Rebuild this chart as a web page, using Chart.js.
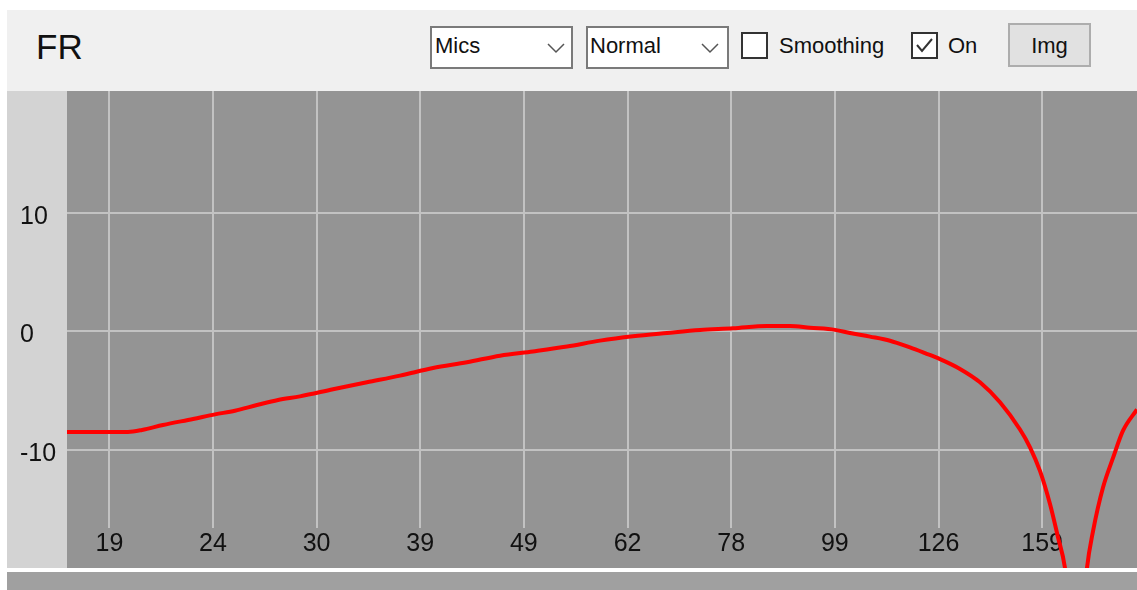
<!DOCTYPE html>
<html>
<head>
<meta charset="utf-8">
<title>FR</title>
<script src="https://cdn.jsdelivr.net/npm/chart.js@4/dist/chart.umd.min.js"></script>
<style>
  html, body { margin: 0; padding: 0; background: #ffffff; width: 1137px; height: 590px; overflow: hidden;
               font-family: "Liberation Sans", Arial, sans-serif; color: #111; }
  .abs { position: absolute; line-height: 1; white-space: nowrap; }
  #header { left: 7px; top: 10px; width: 1130px; height: 81px; background: #f0f0f0; }
  .combo { background: #fff; border: 2px solid #7a7a7a; box-sizing: border-box; }
  .check { background: #fff; border: 2px solid #333; box-sizing: border-box; }
  #imgBtn { left: 1008px; top: 23px; width: 83px; height: 44px; background: #e1e1e1;
            border: 2px solid #adadad; box-sizing: border-box; }
  #plotWrap { left: 7px; top: 91px; width: 1130px; height: 477px; background: #d3d3d3; }
  #footer { left: 7px; top: 572px; width: 1130px; height: 18px; background: #a0a0a0; }
</style>
</head>
<body>
<div id="header" class="abs"></div>
<div class="abs" style="left:36px; top:29px; font-size:35px;">FR</div>

<div class="abs combo" style="left:430px; top:26px; width:143px; height:43px;"></div>
<div class="abs" style="left:435px; top:35px; font-size:22px;">Mics</div>
<svg class="abs" style="left:547px; top:42px;" width="18" height="12"><polyline points="1,2 9,10 17,2" fill="none" stroke="#555" stroke-width="1.5"/></svg>

<div class="abs combo" style="left:586px; top:26px; width:143px; height:43px;"></div>
<div class="abs" style="left:590px; top:35px; font-size:22px;">Normal</div>
<svg class="abs" style="left:701px; top:42px;" width="18" height="12"><polyline points="1,2 9,10 17,2" fill="none" stroke="#555" stroke-width="1.5"/></svg>

<div class="abs check" style="left:741px; top:32px; width:27px; height:27px;"></div>
<div class="abs" style="left:779px; top:35px; font-size:22px;">Smoothing</div>

<div class="abs check" style="left:911px; top:32px; width:27px; height:27px;"></div>
<svg class="abs" style="left:911px; top:32px;" width="27" height="27"><polyline points="6,13 11,19 21,7" fill="none" stroke="#333" stroke-width="2"/></svg>
<div class="abs" style="left:948px; top:35px; font-size:22px;">On</div>

<div id="imgBtn" class="abs"></div>
<div class="abs" style="left:1008px; width:83px; text-align:center; top:35px; font-size:22px;">Img</div>

<div id="plotWrap" class="abs"><canvas id="fr"></canvas></div>
<div id="footer" class="abs"></div>

<script>
// Frequency response: frequency (Hz) and level (dB)
const freqHz = [17.58, 20.18, 20.83, 21.84, 23.38, 24.57, 25.70, 27.01, 28.33, 29.77,
                32.08, 34.64, 37.33, 40.22, 43.43, 46.80, 50.42, 54.45, 58.67, 63.21,
                68.26, 73.55, 79.25, 85.58, 90.15, 94.32, 99.81, 103.25, 108.02, 113.02,
                118.25, 122.33, 126.55, 132.40, 138.53, 144.94, 151.64, 155.11, 158.65, 162.28,
                165.24, 167.88, 169.79, 172.11, 174.46, 176.44, 178.85, 182.94, 187.13, 191.41,
                197.56];
const levelDb = [-8.5, -8.5, -8.34, -7.92, -7.41, -7.02, -6.71, -6.23, -5.80, -5.50,
                 -4.90, -4.31, -3.75, -3.10, -2.62, -2.06, -1.70, -1.29, -0.79, -0.42,
                 -0.14, 0.11, 0.25, 0.45, 0.45, 0.30, 0.12, -0.14, -0.45, -0.80,
                 -1.37, -1.85, -2.35, -3.18, -4.31, -6.0, -8.3, -9.8, -11.8, -14.6,
                 -17.4, -20.0, -24, -38, -25, -20.0, -16.9, -13.2, -10.7, -8.4,
                 -6.6];

// Axis ticks (third-octave style frequency marks and dB marks)
const freqTicks = [19.35, 24.45, 30.91, 39.07, 49.39, 62.44, 78.93, 99.77, 126.12, 159.43];
const freqTickLabels = ['19', '24', '30', '39', '49', '62', '78', '99', '126', '159'];
const dbTicks = [-10, 0, 10];

const freqMin = 17.58, freqMax = 197.56;
const dbMin = -20, dbMax = 20.3;

const PLOT_BG = '#949494';
const GRID = '#c2c2c2';
const GRID_BOTTOM = 437; // vertical grid lines stop above the frequency labels

const plotBackground = {
  id: 'plotBackground',
  beforeDraw(chart) {
    const { ctx, chartArea: a } = chart;
    ctx.save();
    ctx.fillStyle = PLOT_BG;
    ctx.fillRect(a.left, a.top, a.right - a.left, a.bottom - a.top);
    ctx.restore();
  }
};

const freqGrid = {
  id: 'freqGrid',
  beforeDatasetsDraw(chart) {
    const { ctx, chartArea: a } = chart;
    const xs = chart.scales.x;
    ctx.save();
    ctx.strokeStyle = GRID;
    ctx.lineWidth = 2;
    freqTicks.forEach(v => {
      const px = Math.round(xs.getPixelForValue(v));
      ctx.beginPath();
      ctx.moveTo(px, a.top);
      ctx.lineTo(px, GRID_BOTTOM);
      ctx.stroke();
    });
    ctx.restore();
  }
};

const points = freqHz.map((f, i) => ({ x: f, y: levelDb[i] }));

new Chart(document.getElementById('fr'), {
  type: 'line',
  data: {
    datasets: [{
      label: 'FR',
      data: points,
      borderColor: '#ff0000',
      borderWidth: 4,
      pointRadius: 0,
      cubicInterpolationMode: 'monotone',
      clip: 0
    }]
  },
  options: {
    responsive: true,
    maintainAspectRatio: false,
    animation: false,
    events: [],
    layout: { padding: { left: 13, right: 0, top: 0, bottom: 0 } },
    plugins: { legend: { display: false }, tooltip: { enabled: false } },
    scales: {
      x: {
        type: 'logarithmic',
        min: freqMin,
        max: freqMax,
        afterBuildTicks(scale) { scale.ticks = freqTicks.map(v => ({ value: v })); },
        afterFit(scale) {
          scale.height = 0;
          scale.paddingLeft = 0; scale.paddingRight = 0;
        },
        grid: { display: false },
        border: { display: false },
        ticks: {
          autoSkip: false,
          maxRotation: 0,
          mirror: true,
          padding: 9,
          color: '#111',
          font: { family: '"Liberation Sans", Arial, sans-serif', size: 25 },
          callback(value, index) { return freqTickLabels[index]; }
        }
      },
      y: {
        type: 'linear',
        min: dbMin,
        max: dbMax,
        afterBuildTicks(scale) { scale.ticks = dbTicks.map(v => ({ value: v })); },
        afterFit(scale) {
          scale.width = 47;
          scale.paddingTop = 0; scale.paddingBottom = 0;
        },
        grid: { color: GRID, lineWidth: 2, drawTicks: false },
        border: { display: false },
        ticks: {
          crossAlign: 'far',
          labelOffset: 4,
          padding: 0,
          color: '#111',
          font: { family: '"Liberation Sans", Arial, sans-serif', size: 25 }
        }
      }
    }
  },
  plugins: [plotBackground, freqGrid]
});
</script>
</body>
</html>
